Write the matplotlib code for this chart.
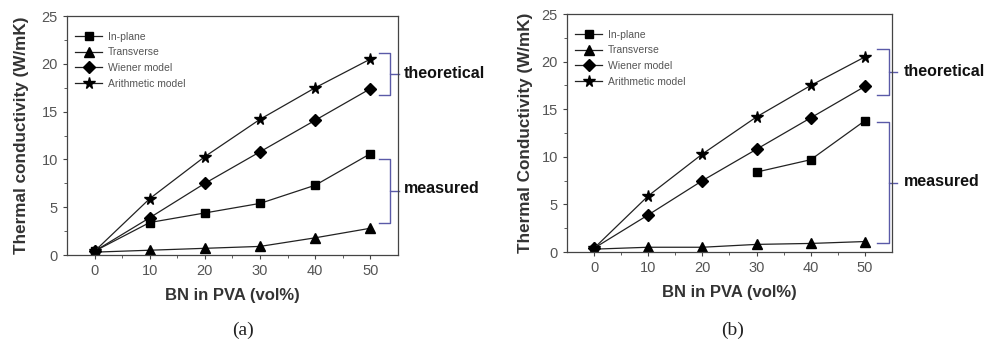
import matplotlib
matplotlib.use("Agg")
import matplotlib.pyplot as plt
import numpy as np

plt.rcParams['font.family'] = ['Liberation Sans', 'DejaVu Sans']

bn = [0, 10, 20, 30, 40, 50]

# panel (a)
a_inplane = [0.4, 3.4, 4.4, 5.4, 7.3, 10.6]
a_transverse = [0.3, 0.5, 0.7, 0.9, 1.8, 2.8]
a_wiener = [0.4, 3.9, 7.5, 10.8, 14.1, 17.4]
a_arith = [0.4, 5.9, 10.3, 14.2, 17.5, 20.5]

# panel (b)
b_inplane = [np.nan, np.nan, np.nan, 8.4, 9.7, 13.8]
b_transverse = [0.3, 0.5, 0.5, 0.8, 0.9, 1.1]
b_wiener = [0.4, 3.9, 7.5, 10.8, 14.1, 17.4]
b_arith = [0.4, 5.9, 10.3, 14.2, 17.5, 20.5]

labels = ["In-plane", "Transverse", "Wiener model", "Arithmetic model"]
markers = ["s", "^", "D", "*"]
msizes = [6, 7, 6, 8.5]

brace_col = "#5a5aa8"


def brace(ax, xa, xb, xc, ylo, yhi):
    ym = (ylo + yhi) / 2
    ax.plot([xa, xb, xb, xc], [yhi, yhi, ym, ym], color=brace_col, lw=1, clip_on=False)
    ax.plot([xa, xb, xb], [ylo, ylo, ym], color=brace_col, lw=1, clip_on=False)


def panel(ax, series, ylabel, ypad):
    for ys, lab, m, ms in zip(series, labels, markers, msizes):
        ax.plot(bn, ys, '-', marker=m, color="#222222", mfc="black", mec="black",
                lw=0.9, markersize=ms, label=lab)
    ax.set_xlim(-5, 55)
    ax.set_ylim(0, 25)
    ax.set_xticks(bn)
    ax.set_yticks([0, 5, 10, 15, 20, 25])
    ax.set_xticks([5, 15, 25, 35, 45], minor=True)
    ax.set_yticks(np.arange(2.5, 25, 5), minor=True)
    ax.tick_params(direction='out', length=3, width=0.8, labelsize=10.5,
                   labelcolor="#555555", color="#444444")
    ax.tick_params(which='minor', direction='out', length=2, width=0.6, color="#444444")
    for s in ax.spines.values():
        s.set_color("#444444")
        s.set_linewidth(0.9)
    ax.set_xlabel("BN in PVA (vol%)", fontsize=12, fontweight='bold', color="#333333", labelpad=7)
    ax.set_ylabel(ylabel, fontsize=12.3, fontweight='bold', color="#333333", labelpad=ypad)
    leg = ax.legend(loc='upper left', frameon=False, fontsize=7.5, handlelength=2.6,
                    handletextpad=0.5, labelspacing=0.55, borderaxespad=0.4,
                    bbox_to_anchor=(0.0, 0.97))
    for t in leg.get_texts():
        t.set_color("#555555")


fig = plt.figure(figsize=(9.94, 3.53), dpi=100)
ax1 = fig.add_axes([0.0674, 0.2776, 0.333, 0.677])
ax2 = fig.add_axes([0.5704, 0.2861, 0.327, 0.674])

panel(ax1, [a_inplane, a_transverse, a_wiener, a_arith], "Thermal conductivity (W/mK)", 9)
panel(ax2, [b_inplane, b_transverse, b_wiener, b_arith], "Thermal Conductivity (W/mK)", 6)

# braces and labels
brace(ax1, 51.6, 53.6, 55.2, a_wiener[-1] - 0.7, a_arith[-1] + 0.6)
brace(ax1, 51.6, 53.6, 55.2, a_transverse[-1] + 0.5, a_inplane[-1] - 0.6)
ax1.text(56.0, (a_wiener[-1] + a_arith[-1]) / 2, "theoretical", fontsize=11.5,
         fontweight='bold', color="#111111", va='center', ha='left', clip_on=False)
ax1.text(56.0, (a_transverse[-1] + a_inplane[-1]) / 2 + 0.3, "measured", fontsize=11.5,
         fontweight='bold', color="#111111", va='center', ha='left', clip_on=False)

brace(ax2, 52.3, 54.4, 56.0, b_wiener[-1] - 0.9, b_arith[-1] + 0.8)
brace(ax2, 52.3, 54.4, 56.0, b_transverse[-1] - 0.2, b_inplane[-1] - 0.1)
ax2.text(57.2, (b_wiener[-1] + b_arith[-1]) / 2, "theoretical", fontsize=11.5,
         fontweight='bold', color="#111111", va='center', ha='left', clip_on=False)
ax2.text(57.2, (b_transverse[-1] + b_inplane[-1]) / 2, "measured", fontsize=11.5,
         fontweight='bold', color="#111111", va='center', ha='left', clip_on=False)

fig.text(243 / 994, 1 - 330 / 353, "(a)", fontsize=14, family='Liberation Serif',
         ha='center', va='center', color="#222222")
fig.text(733 / 994, 1 - 330 / 353, "(b)", fontsize=14, family='Liberation Serif',
         ha='center', va='center', color="#222222")

fig.savefig("out.png", dpi=100)
